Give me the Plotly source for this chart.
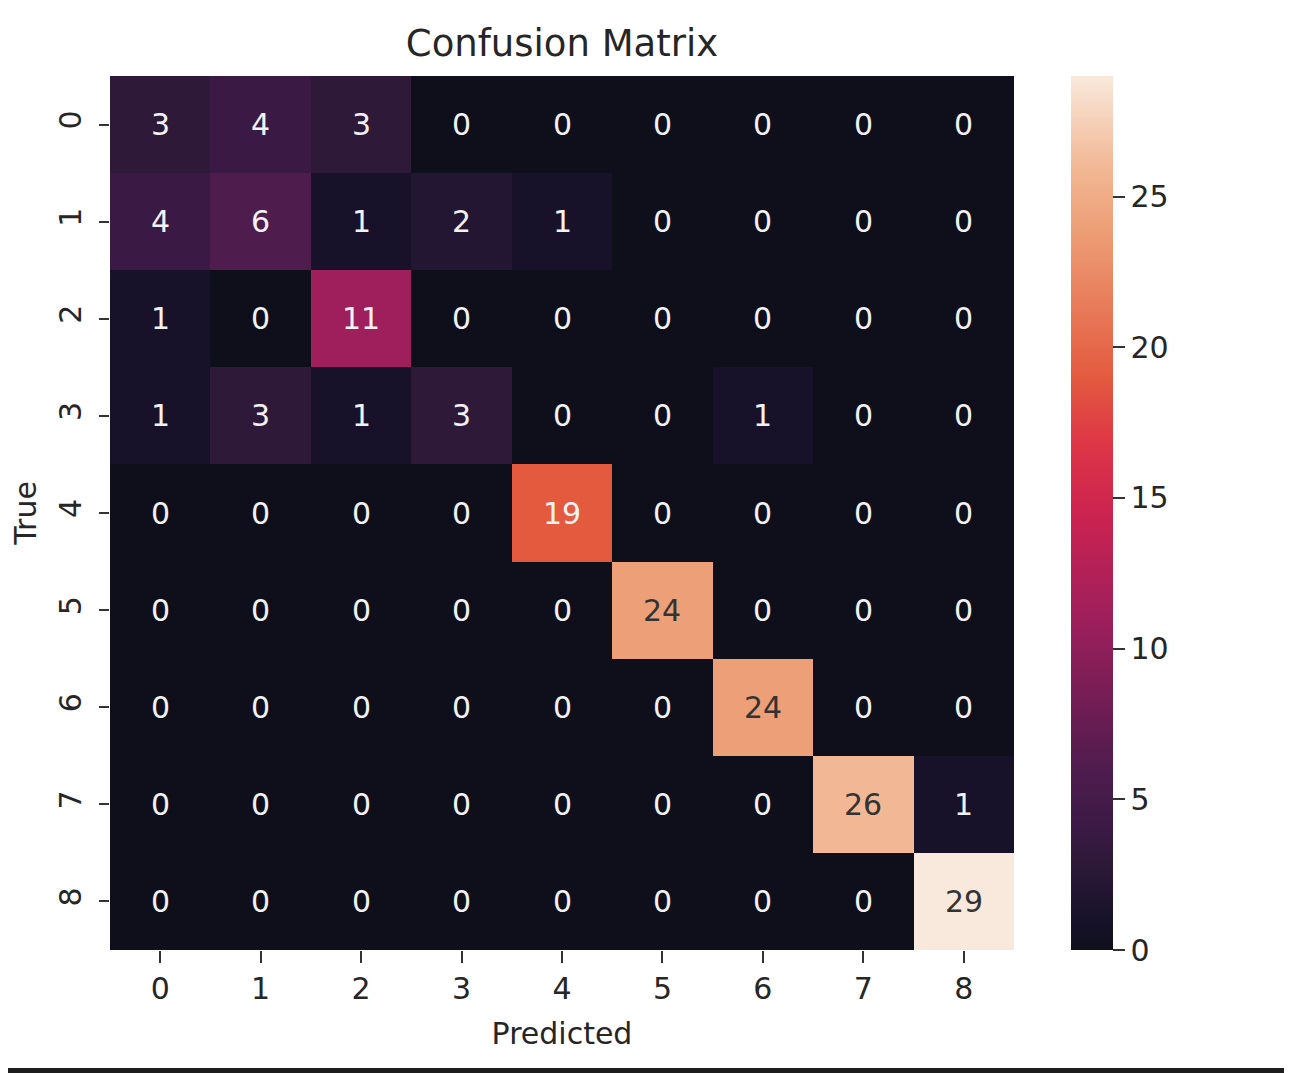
import plotly.graph_objects as go

labels = ["0", "1", "2", "3", "4", "5", "6", "7", "8"]

# rows = true class, columns = predicted class
counts = [
    [3, 4, 3, 0, 0, 0, 0, 0, 0],
    [4, 6, 1, 2, 1, 0, 0, 0, 0],
    [1, 0, 11, 0, 0, 0, 0, 0, 0],
    [1, 3, 1, 3, 0, 0, 1, 0, 0],
    [0, 0, 0, 0, 19, 0, 0, 0, 0],
    [0, 0, 0, 0, 0, 24, 0, 0, 0],
    [0, 0, 0, 0, 0, 0, 24, 0, 0],
    [0, 0, 0, 0, 0, 0, 0, 26, 1],
    [0, 0, 0, 0, 0, 0, 0, 0, 29],
]

cbar_ticks = [0, 5, 10, 15, 20, 25]

# seaborn "rocket", as it looks in the picture
rocket = [
    [0.0, "#0e0f1b"],
    [0.0345, "#17122a"],
    [0.103, "#2e1939"],
    [0.138, "#3a1a45"],
    [0.207, "#4f1c4e"],
    [0.379, "#9e1f5c"],
    [0.5, "#cc2350"],
    [0.583, "#de3746"],
    [0.655, "#e35a3f"],
    [0.828, "#eda077"],
    [0.897, "#f2b896"],
    [1.0, "#f9e9dc"],
]

# the page body adds an 8px margin, so the figure is 8px smaller
OFF = 8
W, H = 1292 - OFF, 1073 - OFF
L, R, T, B = 110 - OFF, 278, 76 - OFF, 123
pw, ph = W - L - R, H - T - B
FONT = "DejaVu Sans"
zmax = max(max(r) for r in counts)

fig = go.Figure()
fig.add_trace(go.Heatmap(
    z=counts, x=labels, y=labels,
    colorscale=rocket, zmin=0, zmax=zmax,
    colorbar=dict(
        thickness=42, len=ph, lenmode="pixels", xpad=0, ypad=0,
        x=(1071 - OFF - L) / pw, xanchor="left", y=0.5, yanchor="middle",
        outlinewidth=0, tickvals=cbar_ticks, tickprefix="\u00a0",
        ticks="outside", ticklen=12, tickwidth=2, tickcolor="#333",
        tickfont=dict(family=FONT, size=30, color="#262626"),
    ),
    hoverinfo="skip",
))

for i, row in enumerate(counts):
    for j, v in enumerate(row):
        fig.add_annotation(
            x=labels[j], y=labels[i], text=str(v), showarrow=False,
            font=dict(family=FONT, size=30,
                      color="#333333" if v / zmax > 0.7 else "#f2f2f2"),
        )

# dark frame on the right and bottom edges of the picture
fig.add_shape(
    type="rect", xref="paper", yref="paper", layer="below",
    x0=-L / pw, x1=(1287 - OFF - L) / pw,
    y0=(H - B - (1068 - OFF)) / ph, y1=(H - B) / ph,
    fillcolor="white", line=dict(width=0),
)

fig.update_layout(
    width=W, height=H,
    margin=dict(l=L, r=R, t=T, b=B),
    paper_bgcolor="#1e1e1e", plot_bgcolor="white",
    font=dict(family=FONT, color="#262626"),
    title=dict(text="Confusion Matrix", x=(562 - OFF) / W, xanchor="center",
               y=1 - (43 - OFF) / H, yanchor="middle",
               font=dict(family=FONT, size=37, color="#262626")),
)
fig.update_xaxes(
    title=dict(text="Predicted", font=dict(size=30), standoff=17),
    tickfont=dict(size=30), ticks="outside", ticklen=12, tickwidth=2,
    tickcolor="#333", showgrid=False, zeroline=False,
    ticklabelstandoff=0,
)
fig.update_yaxes(
    title=dict(text="True", font=dict(size=30), standoff=12),
    tickfont=dict(size=30), tickangle=-90, autorange="reversed",
    ticks="outside", ticklen=10, tickwidth=2, tickcolor="#333",
    showgrid=False, zeroline=False, ticklabelstandoff=6,
)

fig.write_html("out.html")
